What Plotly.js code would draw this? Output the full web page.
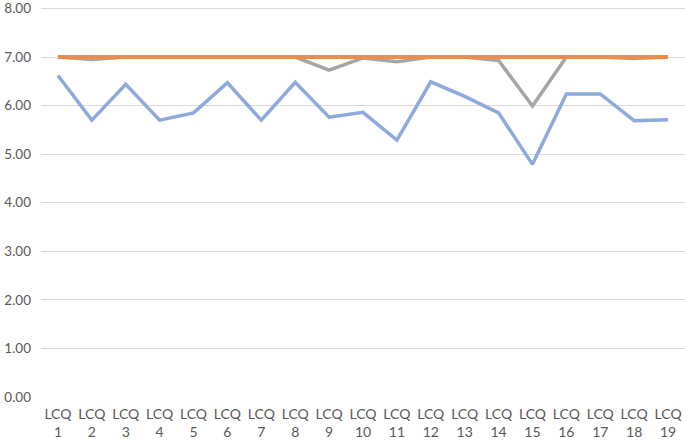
<!DOCTYPE html>
<html>
<head>
<meta charset="utf-8">
<script src="https://cdn.plot.ly/plotly-3.0.1.min.js"></script>
<style>html,body{margin:0;padding:0;background:#fff;}#chart{width:685px;height:445px;}</style>
</head>
<body>
<div id="chart"></div>
<script>
const categories = ["LCQ<br>1","LCQ<br>2","LCQ<br>3","LCQ<br>4","LCQ<br>5","LCQ<br>6","LCQ<br>7","LCQ<br>8","LCQ<br>9","LCQ<br>10","LCQ<br>11","LCQ<br>12","LCQ<br>13","LCQ<br>14","LCQ<br>15","LCQ<br>16","LCQ<br>17","LCQ<br>18","LCQ<br>19"];
const blueValues = [6.62,5.70,6.44,5.70,5.85,6.47,5.70,6.48,5.76,5.86,5.29,6.49,6.19,5.85,4.79,6.24,6.24,5.69,5.71];
const grayValues = [7.00,6.95,7.00,7.00,7.00,7.00,7.00,7.00,6.73,6.98,6.90,7.00,7.00,6.93,5.99,7.00,7.00,6.97,7.00];
const orangeValues = [7.00,7.00,7.00,7.00,7.00,7.00,7.00,7.00,7.00,7.00,7.00,7.00,7.00,7.00,7.00,7.00,7.00,7.00,7.00];
const yTicks = [0,1,2,3,4,5,6,7,8];

const traces = [
  {x: categories, y: blueValues, type: 'scatter', mode: 'lines', line: {color: '#8EA9DB', width: 3.5}, hoverinfo: 'skip'},
  {x: categories, y: grayValues, type: 'scatter', mode: 'lines', line: {color: '#A5A5A5', width: 3.5}, hoverinfo: 'skip'},
  {x: categories, y: orangeValues, type: 'scatter', mode: 'lines', line: {color: '#F08C4A', width: 4}, hoverinfo: 'skip'}
];
const layout = {
  width: 685, height: 445,
  margin: {l: 41, r: 0, t: 6, b: 48, pad: 0},
  paper_bgcolor: '#fff', plot_bgcolor: '#fff',
  showlegend: false,
  font: {family: 'Lato, sans-serif', size: 13, color: '#595959'},
  xaxis: {type: 'category', range: [-0.5, 18.5], showgrid: false, zeroline: false, showline: false, ticks: '', ticklabelstandoff: 7, tickfont: {size: 14, color: '#595959'}, fixedrange: true},
  yaxis: {range: [0, 8.05], tickvals: yTicks, tickformat: '.2f', ticklabeloverflow: 'allow', showgrid: true, gridcolor: '#D9D9D9', gridwidth: 1, zeroline: false, showline: false, ticks: '', ticklabelstandoff: 9, tickfont: {size: 13.5, color: '#595959'}, fixedrange: true}
};
Plotly.newPlot('chart', traces, layout, {displayModeBar: false, staticPlot: true});
</script>
</body>
</html>
